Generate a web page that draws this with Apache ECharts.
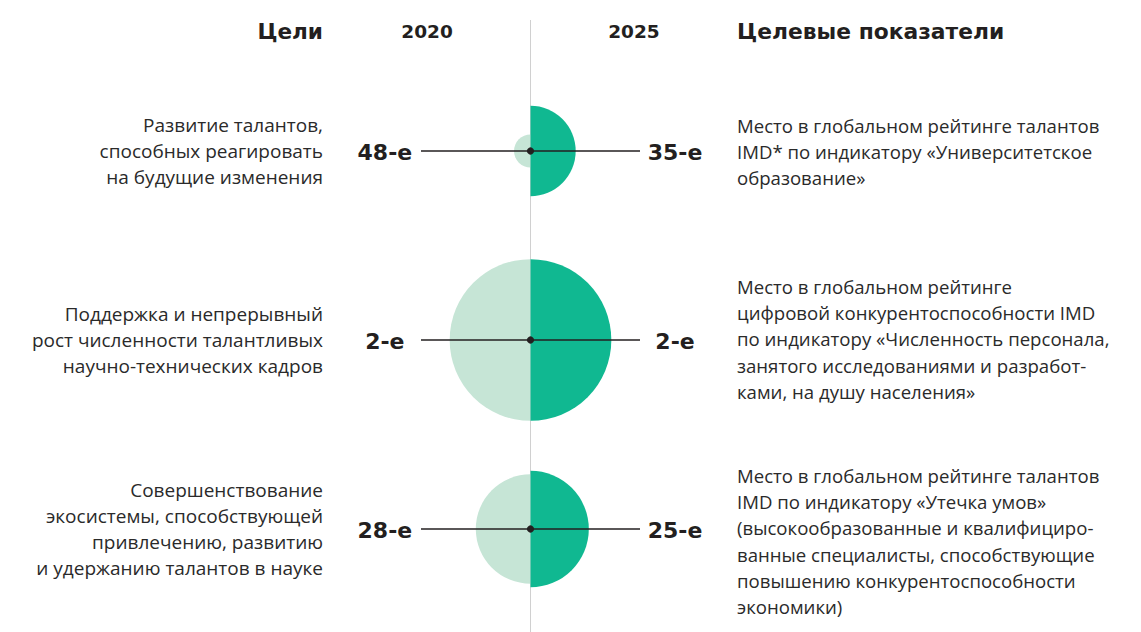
<!DOCTYPE html>
<html>
<head>
<meta charset="utf-8">
<script src="https://cdn.jsdelivr.net/npm/echarts@6/dist/echarts.min.js"></script>
<style>
  html, body { margin: 0; padding: 0; background: #ffffff; }
  #chart { width: 1141px; height: 632px; }
</style>
</head>
<body>
<div id="chart"></div>
<script>
// Goals (left column) and their target indicators (right column)
const goals = [
  'Развитие талантов,\nспособных реагировать\nна будущие изменения',
  'Поддержка и непрерывный\nрост численности талантливых\nнаучно-технических кадров',
  'Совершенствование\nэкосистемы, способствующей\nпривлечению, развитию\nи удержанию талантов в науке'
];
const indicators = [
  'Место в глобальном рейтинге талантов\nIMD* по индикатору «Университетское\nобразование»',
  'Место в глобальном рейтинге\nцифровой конкурентоспособности IMD\nпо индикатору «Численность персонала,\nзанятого исследованиями и разработ-\nками, на душу населения»',
  'Место в глобальном рейтинге талантов\nIMD по индикатору «Утечка умов»\n(высокообразованные и квалифициро-\nванные специалисты, способствующие\nповышению конкурентоспособности\nэкономики)'
];
// Rankings (place in the rating)
const rank2020 = [48, 2, 28];
const rank2025 = [35, 2, 25];
const years = ['2020', '2025'];
const headerGoals = 'Цели';
const headerIndicators = 'Целевые показатели';

// Circle area grows as the place improves (area ~ RANK_BASE - rank)
const RANK_BASE = 50;
const AREA_SCALE = 136;
function rankRadius(rank) {
  return Math.sqrt(AREA_SCALE * Math.max(0, RANK_BASE - rank));
}

const INK = '#231f20';
const TEXT = '#2a2a2a';
const LIGHT = '#c6e5d6';
const TEAL = '#10b891';
const FONT = '"Open Sans", "Noto Sans", sans-serif';
const BOLD = 'bold {s}px "DejaVu Sans", sans-serif';
const bold = s => BOLD.replace('{s}', s);

const indicatorTop = [-39, -67, -67];

const chart = echarts.init(document.getElementById('chart'), null, { renderer: 'svg' });

const data = goals.map((g, i) => [0, i, rank2020[i], rank2025[i]]);

chart.setOption({
  animation: false,
  grid: { left: 421, right: 501, top: 56.5, bottom: 8.5 },
  xAxis: { type: 'value', min: -1, max: 1, show: false },
  yAxis: {
    type: 'category', data: goals.map((g, i) => String(i)), inverse: true, show: false
  },
  series: [{
    type: 'custom',
    data: data,
    encode: { x: 0, y: 1 },
    renderItem: function (params, api) {
      const i = params.dataIndex;
      const c = api.coord([0, i]);
      const l = api.coord([-1, i]);
      const r = api.coord([1, i]);
      const unit = (r[0] - c[0]);
      const a = api.value(2), b = api.value(3);
      return {
        type: 'group',
        children: [
          { type: 'sector', shape: { cx: c[0], cy: c[1], r0: 0, r: rankRadius(a), startAngle: Math.PI / 2, endAngle: Math.PI * 1.5 }, style: { fill: LIGHT } },
          { type: 'sector', shape: { cx: c[0], cy: c[1], r0: 0, r: rankRadius(b), startAngle: -Math.PI / 2, endAngle: Math.PI / 2 }, style: { fill: TEAL } },
          { type: 'line', shape: { x1: l[0], y1: c[1], x2: r[0], y2: c[1] }, style: { stroke: INK, lineWidth: 1.3 } },
          { type: 'circle', shape: { cx: c[0], cy: c[1], r: 3.6 }, style: { fill: INK } },
          { type: 'text', style: { text: a + '-е', x: c[0] - unit * 1.33, y: c[1] + 1, align: 'center', verticalAlign: 'middle', fill: INK, font: bold(22) } },
          { type: 'text', style: { text: b + '-е', x: c[0] + unit * 1.32, y: c[1] + 1, align: 'center', verticalAlign: 'middle', fill: INK, font: bold(22) } },
          { type: 'text', style: { text: goals[i], x: 323, y: c[1], align: 'right', verticalAlign: 'middle', fill: TEXT, font: '19px ' + FONT, lineHeight: 26.3 } },
          { type: 'text', style: { text: indicators[i], x: 737, y: c[1] + indicatorTop[i], align: 'left', verticalAlign: 'top', fill: TEXT, font: '18.6px ' + FONT, lineHeight: 26.3 } }
        ]
      };
    }
  }]
});

// Central divider and column headers
const centre = chart.convertToPixel({ gridIndex: 0 }, [0, 0]);
const unitPx = chart.convertToPixel({ gridIndex: 0 }, [1, 0])[0] - centre[0];
chart.setOption({
  graphic: [
    { type: 'line', z: -1, shape: { x1: centre[0], y1: 20, x2: centre[0], y2: 632 }, style: { stroke: '#d0d0d0', lineWidth: 1 } },
    { type: 'text', style: { text: headerGoals, x: 323, y: 31, align: 'right', verticalAlign: 'middle', fill: INK, font: bold(21.6) } },
    { type: 'text', style: { text: years[0], x: centre[0] - unitPx * 0.945, y: 31, align: 'center', verticalAlign: 'middle', fill: INK, font: bold(18.5) } },
    { type: 'text', style: { text: years[1], x: centre[0] + unitPx * 0.945, y: 31, align: 'center', verticalAlign: 'middle', fill: INK, font: bold(18.5) } },
    { type: 'text', style: { text: headerIndicators, x: 737, y: 31, align: 'left', verticalAlign: 'middle', fill: INK, font: bold(21.8) } }
  ]
});
</script>
</body>
</html>
